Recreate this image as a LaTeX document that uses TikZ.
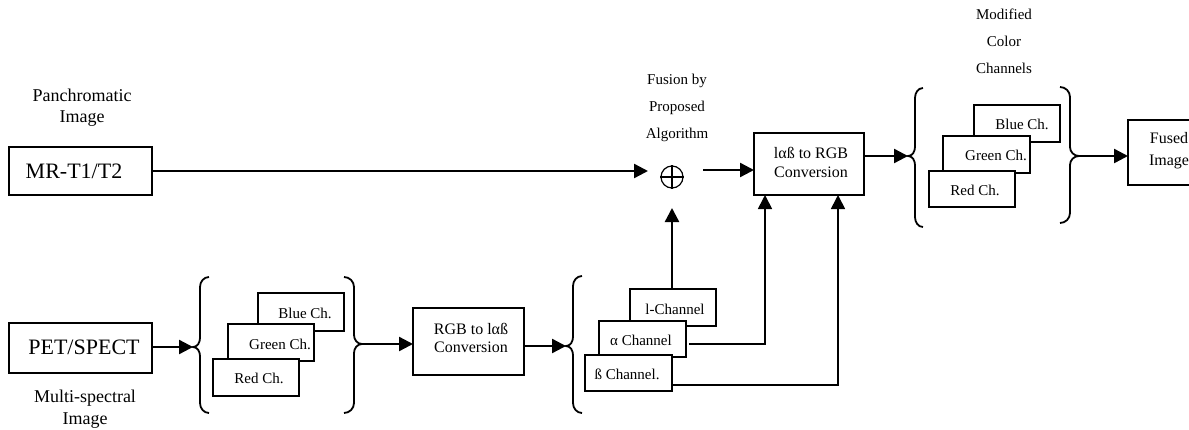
\documentclass[tikz,border=0pt]{standalone}
\usepackage{fontspec}
\setmainfont{Liberation Serif}
\usetikzlibrary{arrows.meta}
\newcommand{\mybraceL}[7]{%
  \draw[brl] (#3,#5) to[out=180,in=90] (#2,#5+10) -- (#2,#6-9) to[out=-90,in=0] (#4,#6) to[out=0,in=90] (#2,#6+9) -- (#2,#7-10) to[out=-90,in=180] (#3,#7);
  \coordinate (#1) at (#4,#6);}
\newcommand{\mybraceR}[7]{%
  \draw[brl] (#3,#5) to[out=0,in=90] (#2,#5+10) -- (#2,#6-9) to[out=-90,in=180] (#4,#6) to[out=180,in=90] (#2,#6+9) -- (#2,#7-10) to[out=-90,in=0] (#3,#7);
  \coordinate (#1) at (#4,#6);}
\tikzset{
  bx/.style={draw, line width=1.7pt, fill=white, inner sep=0pt, outer sep=0pt, anchor=north west},
  ar/.style={line width=2.4pt, -{Triangle[length=14pt,width=14pt]}},
  arthin/.style={line width=1.7pt, -{Triangle[length=14pt,width=14pt]}},
  brl/.style={line width=1.8pt},
  big/.style={font=\fontsize{22}{24}\selectfont},
  mid/.style={font=\fontsize{16}{19}\selectfont, align=center},
  chtxt/.style={font=\fontsize{15}{18}\selectfont},
  lab/.style={font=\fontsize{18}{21}\selectfont, align=center},
  toplab/.style={font=\fontsize{15}{27}\selectfont, align=center},
}
\begin{document}
\begin{tikzpicture}[x=1pt,y=-1pt]
\useasboundingbox (0,0) rectangle (1189,429);

% left inputs
\node[lab] (panlab) at (82,107.5) {Panchromatic\\Image};
\node[bx, minimum width=143pt, minimum height=48pt] (mr) at (9,147) {};
\node[big] (mrtxt) at (74,171) {MR-T1/T2};
\node[bx, minimum width=143pt, minimum height=50pt] (pet) at (9,323) {};
\node[big] (pettxt) at (84,347) {PET/SPECT};
\node[lab, font=\fontsize{18}{22}\selectfont] (mslab) at (85,409) {Multi-spectral\\Image};

% first channel group
\mybraceL{b1}{200}{209}{193}{277}{347}{413}
\mybraceR{b2}{354}{344}{362}{277}{344}{413}
\node[bx, minimum width=86pt, minimum height=38pt] (blue1) at (258,293) {};
\node[chtxt] (blue1t) at (305,313) {Blue Ch.};
\node[bx, minimum width=86pt, minimum height=37pt] (green1) at (228,324) {};
\node[chtxt] (green1t) at (280,344) {Green Ch.};
\node[bx, minimum width=86pt, minimum height=37pt] (red1) at (213,359) {};
\node[chtxt] (red1t) at (259,378) {Red Ch.};

% RGB to lab
\node[bx, minimum width=111pt, minimum height=67pt] (rgb2lab) at (413,308) {};
\node[mid, font=\fontsize{16}{18}\selectfont] (rgb2labt) at (471,338) {RGB to lαß\\Conversion};

% second group
\mybraceL{b3}{573}{582}{566}{276}{346}{413}
\node[bx, minimum width=86pt, minimum height=37pt] (lch) at (630,289) {};
\node[chtxt] (lcht) at (675,309) {l-Channel};
\node[bx, minimum width=87pt, minimum height=36pt] (ach) at (599,321) {};
\node[chtxt] (acht) at (641,340) {α Channel};
\node[bx, minimum width=87pt, minimum height=36pt] (bch) at (585,355) {};
\node[chtxt] (bcht) at (627,374) {ß Channel.};

% fusion
\node[toplab] (fuslab) at (677,108) {Fusion by\\Proposed\\Algorithm};
\node[circle, draw, line width=1.2pt, minimum size=22pt, inner sep=0pt] (fuse) at (672,177) {};
\draw[line width=1.2pt] (fuse.north) -- (fuse.south) (fuse.west) -- (fuse.east);

% lab to RGB
\node[bx, minimum width=110pt, minimum height=62pt] (lab2rgb) at (754,133) {};
\node[mid] (lab2rgbt) at (811,162.5) {lαß to RGB\\Conversion};

% modified channels
\node[toplab] (modlab) at (1004,41) {Modified\\Color\\Channels};
\mybraceL{b4}{915}{923}{908}{88}{156}{227}
\mybraceR{b5}{1070}{1060}{1079}{87}{156}{223}
\node[bx, minimum width=86pt, minimum height=37pt] (blue2) at (974,105) {};
\node[chtxt] (blue2t) at (1022,124) {Blue Ch.};
\node[bx, minimum width=87pt, minimum height=37pt] (green2) at (943,136) {};
\node[chtxt] (green2t) at (996,155) {Green Ch.};
\node[bx, minimum width=86pt, minimum height=36pt] (red2) at (929,171) {};
\node[chtxt] (red2t) at (975,190) {Red Ch.};

% fused image
\node[bx, minimum width=90pt, minimum height=65pt] (fused) at (1128,120) {};
\node[mid, font=\fontsize{16}{22}\selectfont] (fusedt) at (1169,151) {Fused\\Image};

% coordinates
\coordinate (fin) at (648,171);
\coordinate (fup) at (672,208);
\coordinate (fout) at (703,170);
\coordinate (aout) at (689,344);
\coordinate (ain) at (765,195);
\coordinate (bin) at (838,195);

% connectors
\draw[ar] (mr.east |- fin) -- (fin);
\draw[ar] (pet.east |- b1) -- (b1);
\draw[ar] (b2) -- (b2 -| rgb2lab.west);
\draw[ar] (rgb2lab.east |- b3) -- (b3);
\draw[ar] (lch.north -| fup) -- (fup);
\draw[ar] (fout) -- (fout -| lab2rgb.west);
\draw[arthin] (aout) -| (ain);
\draw[arthin] (bch.east |- 0,385) -| (bin);
\draw[ar] (lab2rgb.east |- b4) -- (b4);
\draw[ar] (b5) -- (b5 -| fused.west);
\end{tikzpicture}
\end{document}
